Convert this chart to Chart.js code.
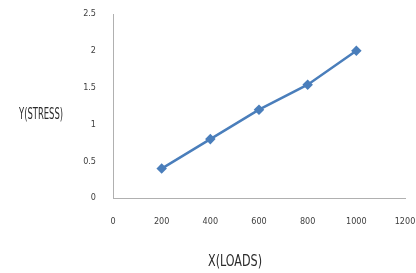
<!DOCTYPE html>
<html lang="en">
<head>
    <meta charset="UTF-8">
    <title>Stress vs Loads</title>
    <script src="https://cdn.jsdelivr.net/npm/chart.js"></script>
    <style>
        html, body { margin: 0; padding: 0; background: #fff; }
        .wrap { width: 416px; height: 273px; position: relative; }
    </style>
</head>
<body>
    <div class="wrap">
        <canvas id="stressChart" width="416" height="273"></canvas>
    </div>

    <script>
        const loads = [200, 400, 600, 800, 1000];
        const stress = [0.4, 0.8, 1.2, 1.54, 2.0];
        const xTitle = 'X(LOADS)';
        const yTitle = 'Y(STRESS)';

        const fontFamily = '"DejaVu Sans Condensed", "Liberation Sans Narrow", "Open Sans", sans-serif';

        // draw narrow text: squeeze horizontally to fit the given width
        function narrowText(ctx, text, cx, cy, width) {
            const w = ctx.measureText(text).width;
            const k = Math.min(1, width / w);
            ctx.save();
            ctx.translate(cx, cy);
            ctx.scale(k, 1);
            ctx.fillText(text, 0, 0);
            ctx.restore();
        }

        // axis titles drawn by hand, the y one sits flat (not rotated)
        const titlesPlugin = {
            id: 'titles',
            afterDraw(chart) {
                const ctx = chart.ctx;
                ctx.save();
                ctx.fillStyle = '#2b2b2b';
                ctx.font = '16px ' + fontFamily;
                ctx.textAlign = 'center';
                ctx.textBaseline = 'middle';
                narrowText(ctx, yTitle, 41, 115, 44);
                narrowText(ctx, xTitle, 235, 262, 54);
                ctx.restore();
            }
        };

        const tickFont = { family: fontFamily, size: 9 };

        const ctx = document.getElementById('stressChart').getContext('2d');
        new Chart(ctx, {
            type: 'line',
            data: {
                datasets: [{
                    data: loads.map((x, i) => ({ x: x, y: stress[i] })),
                    borderColor: '#4a7ebb',
                    backgroundColor: '#4a7ebb',
                    borderWidth: 2.5,
                    pointStyle: 'rectRot',
                    pointRadius: 3.5,
                    fill: false,
                    tension: 0
                }]
            },
            options: {
                responsive: false,
                animation: false,
                layout: { padding: { left: 0, top: 14, right: 11, bottom: 0 } },
                plugins: {
                    legend: { display: false },
                    tooltip: { enabled: false }
                },
                scales: {
                    x: {
                        type: 'linear',
                        min: 0,
                        max: 1200,
                        grid: { display: false },
                        border: { display: true, color: '#b0b0b0', width: 1 },
                        ticks: {
                            stepSize: 200,
                            padding: 10,
                            color: '#404040',
                            font: tickFont,
                            maxRotation: 0,
                            callback: v => String(v)
                        },
                        afterFit(s) {
                            s.height = 75;
                            s.paddingLeft = 0;
                            s.paddingRight = 0;
                        }
                    },
                    y: {
                        min: 0,
                        max: 2.5,
                        grid: { display: false },
                        border: { display: true, color: '#b0b0b0', width: 1 },
                        ticks: {
                            stepSize: 0.5,
                            padding: 9,
                            color: '#404040',
                            font: tickFont,
                            callback: v => String(v)
                        },
                        afterFit(s) {
                            s.width = 113;
                            s.paddingTop = 0;
                            s.paddingBottom = 0;
                        }
                    }
                }
            },
            plugins: [titlesPlugin]
        });
    </script>
</body>
</html>
